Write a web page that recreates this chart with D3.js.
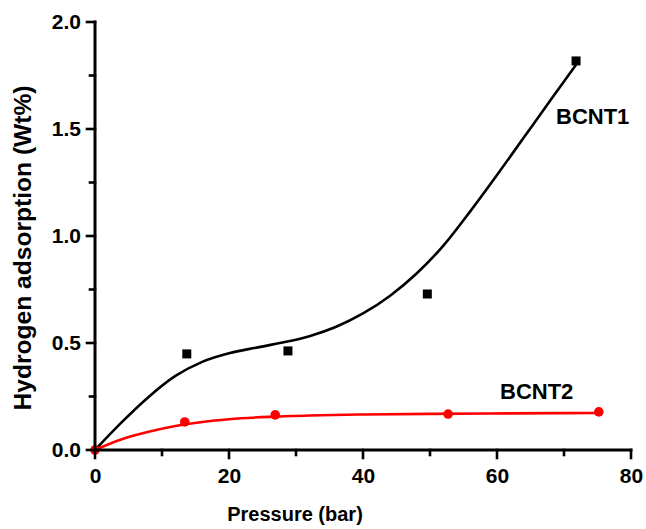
<!DOCTYPE html>
<html>
<head>
<meta charset="utf-8">
<script src="https://cdn.jsdelivr.net/npm/d3@7/dist/d3.min.js"></script>
<style>
html,body{margin:0;padding:0;background:#fff;}
svg text{font-family:"Liberation Sans",Arial,sans-serif;font-weight:bold;fill:#000;}
</style>
</head>
<body>
<svg id="chart" width="646" height="529"></svg>
<script>
// ---- data ----
const bcnt1Points = [[13.7,0.449],[28.8,0.463],[49.6,0.729],[71.8,1.818]];
const bcnt2Points = [[0,0],[13.4,0.131],[26.9,0.164],[52.7,0.168],[75.2,0.178]];
const bcnt1Fit = [[0,0],[4,0.13],[8,0.248],[12,0.346],[16,0.412],[20,0.452],[24,0.478],[28,0.502],[32,0.532],[36,0.576],[40,0.638],[44,0.72],[48,0.825],[52,0.955],[56,1.115],[60,1.285],[64,1.46],[68,1.635],[71.8,1.80]];
const bcnt2Fit = [[0,0],[4,0.05],[8,0.085],[12,0.112],[16,0.131],[20,0.144],[26,0.155],[32,0.161],[40,0.166],[50,0.169],[62,0.171],[75.2,0.173]];
const xMajor = [0,20,40,60,80];
const xMinor = [10,30,50,70];
const yMajor = [0,0.5,1.0,1.5,2.0];
const yMinor = [0.25,0.75,1.25,1.75];
const seriesNames = ["BCNT1","BCNT2"];
const xTitle = "Pressure (bar)";
const yTitle = "Hydrogen adsorption (Wt%)";

// ---- layout ----
const W = 646, H = 529;
const m = {left:95, right:15, top:22, bottom:79};
const svg = d3.select("#chart");
const x = d3.scaleLinear().domain([0,80]).range([m.left, W - m.right]);
const y = d3.scaleLinear().domain([0,2.0]).range([H - m.bottom, m.top]);

const line = d3.line().x(d=>x(d[0])).y(d=>y(d[1])).curve(d3.curveMonotoneX);

// curves
svg.append("path").datum(bcnt1Fit).attr("d", line)
  .attr("fill","none").attr("stroke","#000").attr("stroke-width",2.6);
svg.append("path").datum(bcnt2Fit).attr("d", line)
  .attr("fill","none").attr("stroke","#ff0000").attr("stroke-width",2.6);

// markers
const sq = 9;
svg.selectAll("rect.p1").data(bcnt1Points).enter().append("rect")
  .attr("x", d=>x(d[0]) - sq/2).attr("y", d=>y(d[1]) - sq/2)
  .attr("width", sq).attr("height", sq).attr("fill","#000");
svg.selectAll("circle.p2").data(bcnt2Points).enter().append("circle")
  .attr("cx", d=>x(d[0])).attr("cy", d=>y(d[1])).attr("r", 4.8)
  .attr("fill","#ff0000");

// axes (labels via d3 axes, lines drawn explicitly for weight)
const xAxis = d3.axisBottom(x).tickValues(xMajor).tickFormat(d3.format("d"))
  .tickSize(0).tickPadding(18);
const gx = svg.append("g").attr("transform",`translate(0,${y(0)})`).call(xAxis);
const yAxis = d3.axisLeft(y).tickValues(yMajor).tickFormat(d3.format(".1f"))
  .tickSize(0).tickPadding(14);
const gy = svg.append("g").attr("transform",`translate(${x(0)},0)`).call(yAxis);
[gx,gy].forEach(g=>{
  g.select(".domain").remove();
  g.selectAll(".tick line").remove();
  g.selectAll(".tick text").attr("font-size",21).attr("font-weight","bold")
    .attr("font-family",'"Liberation Sans",Arial,sans-serif').attr("fill","#000");
});

const ax = svg.append("g").attr("stroke","#000").attr("stroke-linecap","square");
ax.append("line").attr("x1",x(0)).attr("x2",x(80)).attr("y1",y(0)).attr("y2",y(0)).attr("stroke-width",3);
ax.append("line").attr("x1",x(0)).attr("x2",x(0)).attr("y1",y(0)).attr("y2",y(2.0)).attr("stroke-width",3);
ax.selectAll("line.xM").data(xMajor).enter().append("line")
  .attr("x1",d=>x(d)).attr("x2",d=>x(d)).attr("y1",y(0)).attr("y2",y(0)+8).attr("stroke-width",2.6);
ax.selectAll("line.xm").data(xMinor).enter().append("line")
  .attr("x1",d=>x(d)).attr("x2",d=>x(d)).attr("y1",y(0)).attr("y2",y(0)+5).attr("stroke-width",2.6);
ax.selectAll("line.yM").data(yMajor).enter().append("line")
  .attr("y1",d=>y(d)).attr("y2",d=>y(d)).attr("x1",x(0)).attr("x2",x(0)-8).attr("stroke-width",2.6);
ax.selectAll("line.ym").data(yMinor).enter().append("line")
  .attr("y1",d=>y(d)).attr("y2",d=>y(d)).attr("x1",x(0)).attr("x2",x(0)-5).attr("stroke-width",2.6);

// series labels
svg.append("text").attr("x",556).attr("y",124).attr("font-size",22).text(seriesNames[0]);
svg.append("text").attr("x",500).attr("y",399).attr("font-size",22).text(seriesNames[1]);

// titles
svg.append("text").attr("x",295).attr("y",521).attr("text-anchor","middle")
  .attr("font-size",20).text(xTitle);
svg.append("text").attr("transform","translate(31,248) rotate(-90)")
  .attr("text-anchor","middle").attr("font-size",24)
  .attr("textLength",325).attr("lengthAdjust","spacingAndGlyphs").text(yTitle);
</script>
</body>
</html>
